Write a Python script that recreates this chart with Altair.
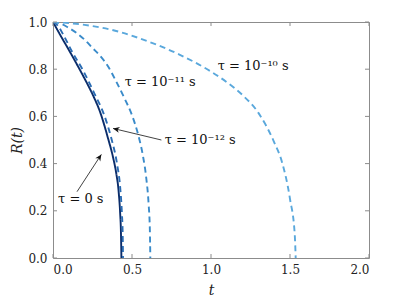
import altair as alt
import pandas as pd

# ---- data ----
t_tau0 = [0.0, 0.05, 0.10, 0.15, 0.20, 0.25, 0.30, 0.35, 0.38, 0.40, 0.415, 0.425, 0.43, 0.433]
r_tau0 = [1.0, 0.94, 0.882, 0.822, 0.76, 0.694, 0.615, 0.503, 0.427, 0.36, 0.285, 0.19, 0.11, 0.0]

t_tau12 = [0.0, 0.03, 0.07, 0.12, 0.19, 0.26, 0.327, 0.37, 0.405, 0.425, 0.436, 0.441, 0.443]
r_tau12 = [1.0, 0.985, 0.94, 0.875, 0.795, 0.70, 0.60, 0.505, 0.40, 0.30, 0.19, 0.10, 0.0]

t_tau11 = [0.0, 0.05, 0.10, 0.15, 0.20, 0.25, 0.30, 0.35, 0.40, 0.45, 0.50, 0.54, 0.57, 0.59, 0.605, 0.613, 0.616]
r_tau11 = [1.0, 0.993, 0.975, 0.953, 0.925, 0.89, 0.855, 0.81, 0.748, 0.68, 0.605, 0.52, 0.43, 0.34, 0.23, 0.12, 0.0]

t_tau10 = [0.0, 0.2, 0.4, 0.6, 0.8, 1.0, 1.1, 1.2, 1.3, 1.4, 1.45, 1.5, 1.53, 1.536]
r_tau10 = [1.0, 0.988, 0.962, 0.918, 0.862, 0.79, 0.745, 0.69, 0.615, 0.49, 0.405, 0.25, 0.10, 0.0]

series_keys = ["tau0", "tau12", "tau11", "tau10"]
series_colors = ["#0b2d6b", "#2a6cb3", "#3a8bca", "#5aa8dc"]
series_dash = [[1, 0], [6, 4], [6, 4], [6, 4]]

label_text = ["τ = 10⁻¹⁰ s", "τ = 10⁻¹¹ s", "τ = 10⁻¹² s", "τ = 0 s"]
label_t = [1.042, 0.454, 0.707, 0.032]
label_r = [0.813, 0.745, 0.50, 0.25]

arrow_tail_t = [0.686, 0.152]
arrow_tail_r = [0.50, 0.281]
arrow_tip_t = [0.38, 0.306]
arrow_tip_r = [0.549, 0.439]
arrow_angle = [283.6, 33.1]

x_ticks = [0.0, 0.5, 1.0, 1.5, 2.0]
y_ticks = [0.0, 0.2, 0.4, 0.6, 0.8, 1.0]

W, H = 316, 236
FONT = "DejaVu Serif"
AXIS_COLOR = "#8c8c8c"

rows = []
for key, ts, rs in [("tau0", t_tau0, r_tau0), ("tau12", t_tau12, r_tau12),
                    ("tau11", t_tau11, r_tau11), ("tau10", t_tau10, r_tau10)]:
    for i, (a, b) in enumerate(zip(ts, rs)):
        rows.append({"series": key, "t": a, "R": b, "i": i})
df = pd.DataFrame(rows)

xs = alt.Scale(domain=[0, 2], nice=False)
ys = alt.Scale(domain=[0, 1], nice=False)

lines = alt.Chart(df).mark_line(strokeWidth=1.9, interpolate="monotone", clip=True).encode(
    x=alt.X("t:Q", scale=xs, axis=alt.Axis(values=x_ticks, format=".1f", title="t",
                                          titleY=36, titleBaseline="alphabetic")),
    y=alt.Y("R:Q", scale=ys, axis=alt.Axis(values=y_ticks, format=".1f", title="R(t)",
                                          titleX=-32, titleBaseline="alphabetic")),
    color=alt.Color("series:N", scale=alt.Scale(domain=series_keys, range=series_colors), legend=None),
    strokeDash=alt.StrokeDash("series:N", scale=alt.Scale(domain=series_keys, range=series_dash), legend=None),
    detail="series:N",
    order="i:Q",
)

xt = pd.DataFrame({"v": x_ticks})
yt = pd.DataFrame({"v": y_ticks})
tick_bottom = alt.Chart(xt).mark_rule(color=AXIS_COLOR, strokeWidth=1).encode(
    x=alt.X("v:Q", scale=xs), y=alt.value(H), y2=alt.value(H - 4))
tick_top = alt.Chart(xt).mark_rule(color=AXIS_COLOR, strokeWidth=1).encode(
    x=alt.X("v:Q", scale=xs), y=alt.value(0), y2=alt.value(4))
tick_left = alt.Chart(yt).mark_rule(color=AXIS_COLOR, strokeWidth=1).encode(
    y=alt.Y("v:Q", scale=ys), x=alt.value(0), x2=alt.value(4))
tick_right = alt.Chart(yt).mark_rule(color=AXIS_COLOR, strokeWidth=1).encode(
    y=alt.Y("v:Q", scale=ys), x=alt.value(W), x2=alt.value(W - 4))

ldf = pd.DataFrame({"txt": label_text, "t": label_t, "R": label_r})
labels = alt.Chart(ldf).mark_text(align="left", baseline="middle", font=FONT, fontSize=13,
                                  color="#111111").encode(
    x=alt.X("t:Q", scale=xs), y=alt.Y("R:Q", scale=ys), text="txt:N")

adf = pd.DataFrame({"t": arrow_tail_t, "R": arrow_tail_r, "t2": arrow_tip_t, "R2": arrow_tip_r,
                    "ang": arrow_angle})
arrow_lines = alt.Chart(adf).mark_rule(color="#111111", strokeWidth=0.8).encode(
    x=alt.X("t:Q", scale=xs), y=alt.Y("R:Q", scale=ys), x2="t2:Q", y2="R2:Q")
arrow_heads = alt.Chart(adf).mark_point(
    shape="M0,0L-0.45,1L0,0.7L0.45,1Z", filled=True, color="#111111", size=170, opacity=1
).encode(x=alt.X("t2:Q", scale=xs), y=alt.Y("R2:Q", scale=ys), angle=alt.Angle("ang:Q", scale=None))

chart = alt.layer(lines, tick_bottom, tick_top, tick_left, tick_right, arrow_lines, arrow_heads, labels).properties(
    width=W, height=H,
    autosize=alt.AutoSizeParams(type="none"),
    padding={"left": 45, "top": 14, "right": 30, "bottom": 38},
).configure_view(stroke=AXIS_COLOR, strokeWidth=1).configure_axis(
    grid=False, ticks=False, domain=False,
    labelFont=FONT, labelFontSize=12, labelColor="#222222", labelPadding=6,
    titleFont=FONT, titleFontSize=14, titleFontStyle="italic", titleFontWeight="normal",
    titleColor="#222222",
)

chart.save("out.html", embed_options={"renderer": "svg", "actions": False})
